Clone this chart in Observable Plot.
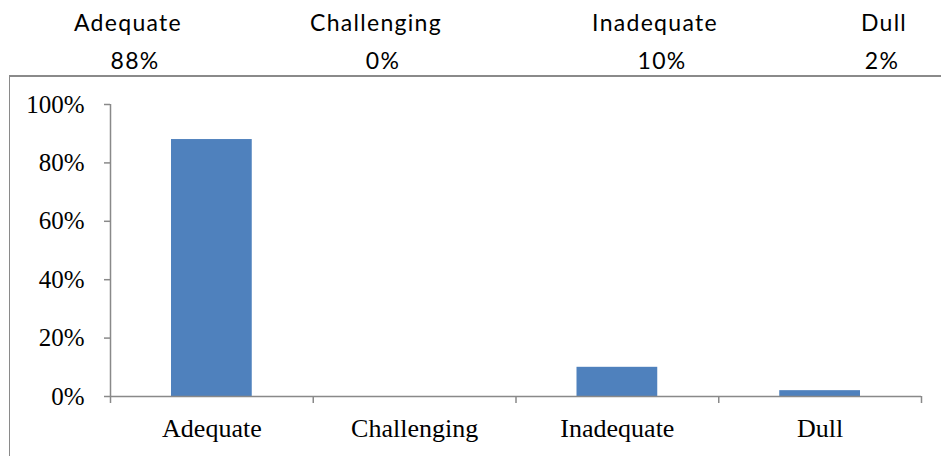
<!DOCTYPE html>
<html><head><meta charset="utf-8">
<script src="https://cdn.jsdelivr.net/npm/d3@7"></script>
<script src="https://cdn.jsdelivr.net/npm/@observablehq/plot@0.6"></script>
<style>
html,body{margin:0;padding:0;background:#fff;overflow:hidden;width:941px;height:456px}
#summary{position:absolute;left:0;top:0;width:941px;height:75px;font-family:Lato,"Open Sans",sans-serif;font-size:23px;color:#000}
.cell{position:absolute;transform:translateX(-50%);white-space:nowrap;line-height:1;letter-spacing:1.3px}
#box{position:absolute;left:9px;top:75px;border-left:1px solid #8a8a8a;border-top:2px solid #8a8a8a;width:940px;height:400px}
#box svg{display:block}
</style></head>
<body>
<div id="summary"></div>
<div id="box"></div>
<script>
const categories = ["Adequate", "Challenging", "Inadequate", "Dull"];
const values = [0.88, 0.00, 0.10, 0.02];
const valueLabels = ["88%", "0%", "10%", "2%"];
const yTicks = [0, 0.2, 0.4, 0.6, 0.8, 1.0];

// layout of the summary table above the chart (column centres, px)
const headerCenters = [128, 376, 655, 884];
const valueCenters = [135, 383, 662, 882];

const summary = document.getElementById("summary");
categories.forEach((c, i) => {
  const h = document.createElement("div");
  h.className = "cell"; h.textContent = c;
  h.style.left = headerCenters[i] + "px"; h.style.top = "10.5px";
  summary.appendChild(h);
  const v = document.createElement("div");
  v.className = "cell"; v.textContent = valueLabels[i];
  v.style.left = valueCenters[i] + "px"; v.style.top = "48.5px";
  summary.appendChild(v);
});

const data = categories.map((c, i) => ({category: c, index: i, value: values[i]}));
const axisColor = "#898989";

const chart = Plot.plot({
  width: 931, height: 381,
  marginLeft: 100, marginRight: 20, marginTop: 27, marginBottom: 62,
  x: {domain: [0, categories.length], axis: null, label: null},
  y: {domain: [0, 1], axis: null, label: null},
  style: {fontFamily: "'Liberation Serif', 'Times New Roman', serif", color: "#000", background: "#fff"},
  marks: [
    Plot.rectY(data, {x1: "index", x2: d => d.index + 1, y: "value", fill: "#4F81BD", insetLeft: 61, insetRight: 61}),
    Plot.ruleX([0], {stroke: axisColor, strokeWidth: 1.5}),
    Plot.ruleY([0], {stroke: axisColor, strokeWidth: 1.5}),
    Plot.axisY(yTicks, {anchor: "left", label: null, tickSize: 6, tickPadding: 20, tickFormat: d => Math.round(d * 100) + "%", fontSize: 25, stroke: axisColor, strokeWidth: 1.5, fill: "#000"}),
    Plot.axisX(d3.range(categories.length + 1), {anchor: "bottom", label: null, tickSize: 7, tickFormat: () => "", stroke: axisColor, strokeWidth: 1.5}),
    Plot.axisX(categories.map((c, i) => i + 0.5), {anchor: "bottom", label: null, tickSize: 0, tickPadding: 22, tickFormat: d => categories[Math.floor(d)], fontSize: 26, fill: "#000"})
  ]
});
document.getElementById("box").appendChild(chart);
</script>
</body></html>
